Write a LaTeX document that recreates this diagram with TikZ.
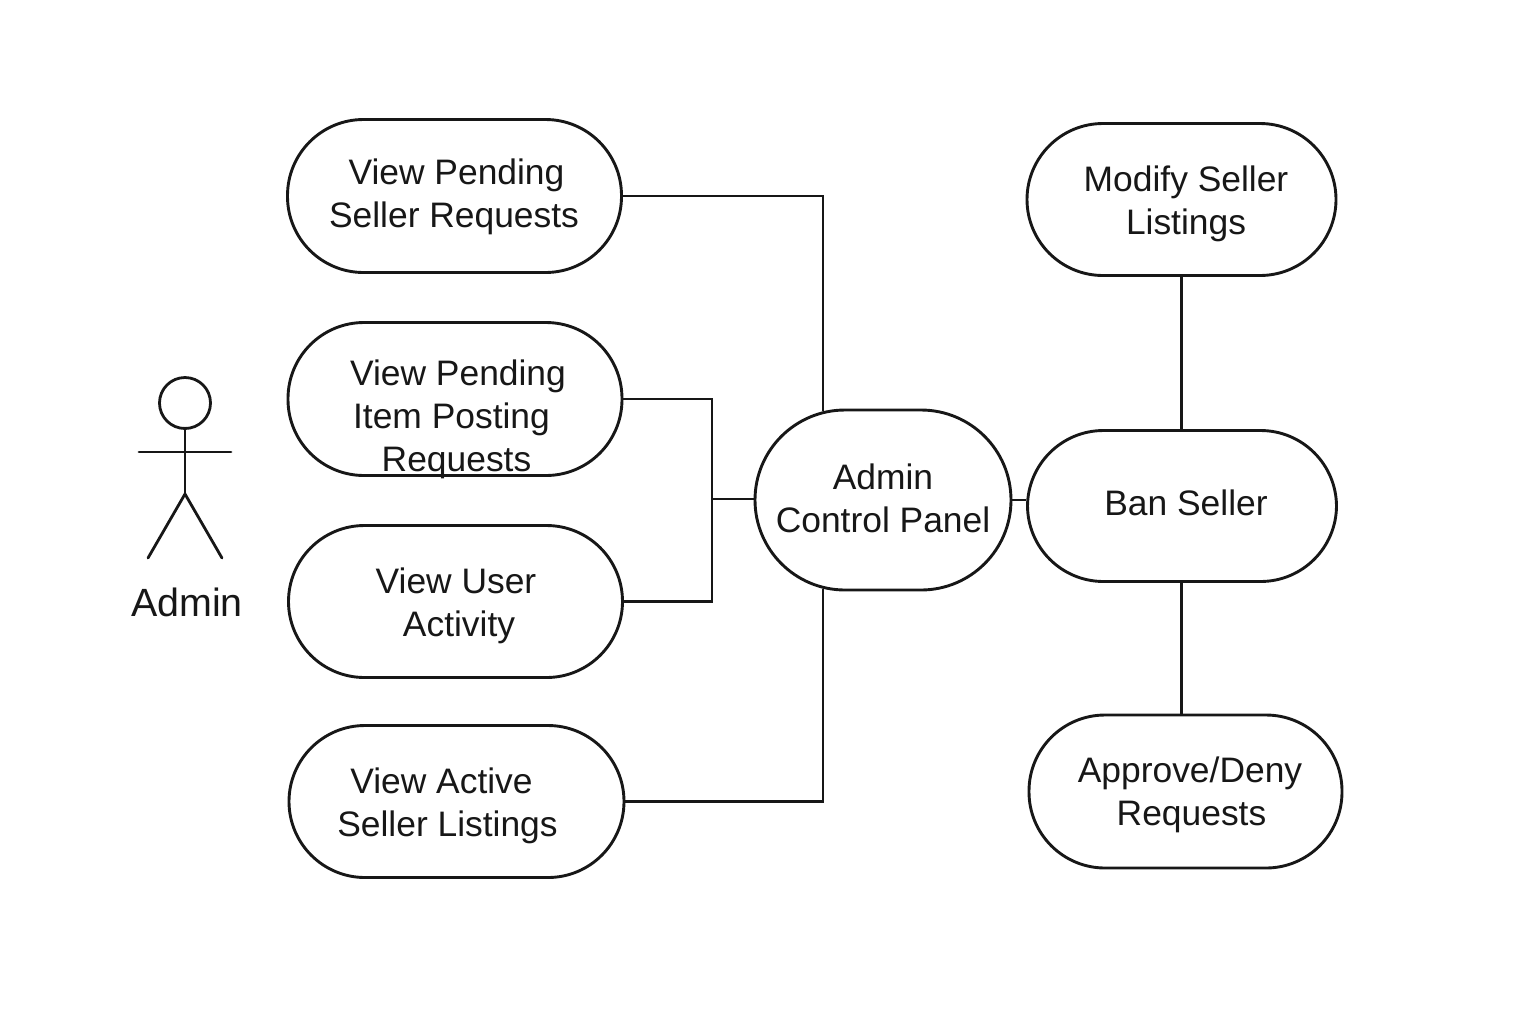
\documentclass[tikz,border=0pt]{standalone}
\usepackage{fontspec}
\setmainfont{Liberation Sans}
\definecolor{ink}{gray}{0.09}
\tikzset{
	usecase/.style={draw=ink, line width=1.45pt, rounded corners=38pt, minimum width=167pt, minimum height=76.5pt},
	usetext/.style={align=center, text=ink, font=\fontsize{17.7}{21.5}\selectfont},
	link/.style={draw=ink, line width=1.4pt},
	stick/.style={draw=ink, line width=1.4pt, line cap=round},
}
\begin{document}
\begin{tikzpicture}[x=0.5pt,y=-0.5pt]
		\useasboundingbox (0,0) rectangle (1536,1024);
		% left use cases
		\node [usecase] (Pending) at (454.5,196) {};
		\node [usecase] (Posting) at (455,399) {};
		\node [usecase, minimum height=76pt] (Activity) at (455.5,601.5) {};
		\node [usecase, minimum width=167.5pt, minimum height=76pt] (Active) at (456.5,801.5) {};
		% right use cases
		\node [usecase, minimum width=154.5pt, minimum height=76pt] (Modify) at (1181.5,199.5) {};
		\node [usecase, minimum width=154.5pt, minimum height=75.5pt] (Ban) at (1182,506) {};
		\node [usecase, minimum width=156.5pt] (Approve) at (1185.5,791.5) {};
		\node [usecase, minimum width=128pt, minimum height=90pt, rounded corners=45pt] (Panel) at (883,500) {};
		% texts
		\node [usetext] (tPending) at (454,197) {\hspace*{2.5pt}View Pending\\Seller Requests};
		\node [usetext] (tPosting) at (458,419) {View Pending\\\hspace*{-6.5pt}Item Posting\\\hspace*{-1.5pt}Requests};
		\node [usetext] (tActivity) at (456,606) {View User\\\hspace*{3pt}Activity};
		\node [usetext] (tActive) at (447.5,806) {\hspace*{-6pt}View Active\\Seller Listings};
		\node [usetext] (tModify) at (1186,204) {Modify Seller\\Listings};
		\node [usetext] (tBan) at (1186,503) {Ban Seller};
		\node [usetext] (tApprove) at (1190,795) {Approve/Deny\\\hspace*{1.5pt}Requests};
		\node [usetext] (tPanel) at (883,498) {Admin\\Control Panel};
		% connectors
		\coordinate (Joint) at (712,499);
		\coordinate (Upper) at (823,411);
		\coordinate (Lower) at (823,589);
		\draw [link] (Pending.east) -| (Upper);
		\draw [link] (Active.east) -| (Lower);
		\draw [link] (Posting.east) -| (Joint);
		\draw [link] (Activity.east) -| (Joint);
		\draw [link] (Joint) to (Joint -| Panel.west);
		\draw [link] (Panel.east) to (Panel.east -| Ban.west);
		\draw [link] (Modify.south) to (Modify.south |- Ban.north);
		\draw [link] (Modify.south |- Ban.south) to (Modify.south |- Approve.north);
		% actor
		\coordinate (Neck) at (185,428);
		\coordinate (Hip) at (185,494);
		\draw [stick] (185,403) circle (25.5);
		\draw [stick] (Neck) to (Hip);
		\draw [stick] (139,452) to (231,452);
		\draw [stick] (148,558) to (Hip) to (222,558);
		\node [text=ink, font=\fontsize{19.7}{23}\selectfont] (Admin) at (187,602.5) {Admin};
	\end{tikzpicture}
\end{document}
